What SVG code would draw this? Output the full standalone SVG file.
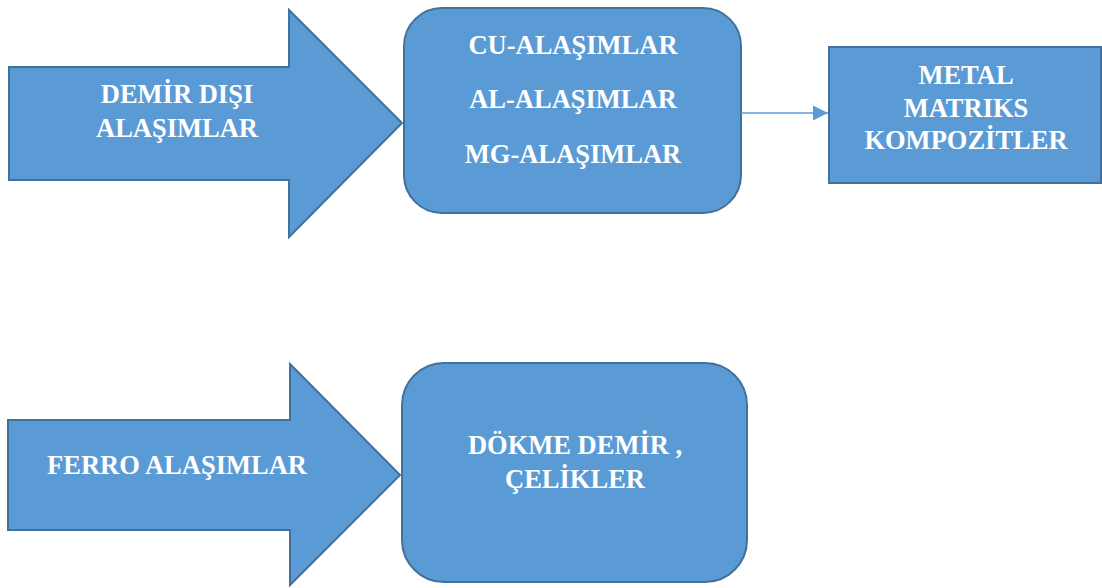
<svg xmlns="http://www.w3.org/2000/svg" width="1102" height="588" viewBox="0 0 1102 588">
<style>
.shape{fill:#5B9BD5;stroke:#41719C;stroke-width:2}
.t{font-family:'Liberation Serif','Times New Roman',Tinos,'DejaVu Serif',serif;font-weight:700;font-size:26.5px;fill:#FFFFFF;text-anchor:middle}
.conn{stroke:#5B9BD5;stroke-width:1.3;fill:none}
</style>
<defs>
<marker id="ah" markerUnits="userSpaceOnUse" markerWidth="16" markerHeight="16" refX="15" refY="8" orient="auto">
<path d="M0,0.5 L15,8 L0,15.5 Z" fill="#5B9BD5"/>
</marker>
</defs>
<rect width="1102" height="588" fill="#FFFFFF"/>
<g id="demir-disi">
<polygon class="shape" points="9,67 289,67 289,10 402,123 289,237 289,180 9,180"/>
<text class="t" x="177" y="103" font-family="Liberation Serif, serif">DEMİR DIŞI</text>
<text class="t" x="177" y="137">ALAŞIMLAR</text>
</g>
<g id="alasimlar">
<rect class="shape" x="404" y="8" width="337" height="205" rx="38" ry="38"/>
<text class="t" x="573" y="54">CU-ALAŞIMLAR</text>
<text class="t" x="573" y="108">AL-ALAŞIMLAR</text>
<text class="t" x="573" y="163">MG-ALAŞIMLAR</text>
</g>
<g id="metal-matriks">
<rect class="shape" x="829" y="47" width="272" height="136"/>
<text class="t" x="966" y="84">METAL</text>
<text class="t" x="966" y="117">MATRIKS</text>
<text class="t" x="966" y="149">KOMPOZİTLER</text>
</g>
<g id="ferro">
<polygon class="shape" points="8,420 290,420 290,364 400,475 290,585 290,530 8,530"/>
<text class="t" x="177" y="474">FERRO ALAŞIMLAR</text>
</g>
<g id="dokme-demir">
<rect class="shape" x="402" y="363" width="345" height="219" rx="42" ry="42"/>
<text class="t" x="575" y="454">DÖKME DEMİR ,</text>
<text class="t" x="575" y="488">ÇELİKLER</text>
</g>
<g id="connectors">
<line class="conn" x1="741" y1="113" x2="828" y2="113" marker-end="url(#ah)"/>
</g>
</svg>
